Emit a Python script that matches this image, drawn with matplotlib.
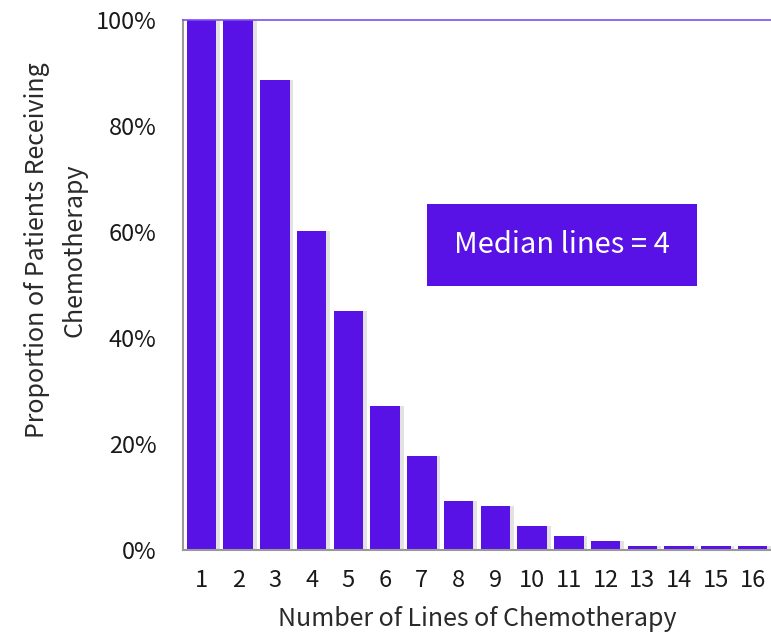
import matplotlib
matplotlib.use("Agg")
import matplotlib.pyplot as plt
from matplotlib.patches import Rectangle
from matplotlib.ticker import PercentFormatter

plt.rcParams['font.family'] = ['Noto Sans CJK KR', 'DejaVu Sans']

lines = list(range(1, 17))
proportion = [100, 100, 88.7, 60.2, 45.1, 27.2, 17.7, 9.2, 8.3, 4.5, 2.6, 1.7, 0.8, 0.8, 0.8, 0.8]
y_ticks = [0, 20, 40, 60, 80, 100]
annotation = "Median lines = 4"

bar_color = "#5912E6"
text_color = "#1a1a1a"

fig = plt.figure(figsize=(7.71, 6.34), dpi=100)
ax = fig.add_axes([0.2374, 0.1325, 0.7626, 0.836])

# soft shadow behind each bar
ax.bar([x + 0.1 for x in lines], proportion, width=0.8, color="#e2e2e2", zorder=1)
ax.bar(lines, proportion, width=0.8, color=bar_color, zorder=2)

ax.set_xlim(0.5, 16.5)
ax.set_ylim(0, 100)
ax.set_xticks(lines)
ax.set_xticklabels([str(x) for x in lines])
ax.set_yticks(y_ticks)
ax.yaxis.set_major_formatter(PercentFormatter(decimals=0))
ax.tick_params(axis='both', length=0, labelsize=17, colors=text_color)
ax.tick_params(axis='y', pad=19)
ax.tick_params(axis='x', pad=14)

ax.spines["right"].set_visible(False)
ax.spines["top"].set_color("#7a4ff0")
ax.spines["top"].set_linewidth(1.2)
ax.spines["left"].set_color("#999999")
ax.spines["left"].set_linewidth(1.5)
ax.spines["bottom"].set_color("#999999")
ax.spines["bottom"].set_linewidth(1.5)

ax.set_xlabel("Number of Lines of Chemotherapy", fontsize=18, color="#2a2a2a", labelpad=10)
ax.set_ylabel("Proportion of Patients Receiving\nChemotherapy", fontsize=18, color="#2a2a2a",
              linespacing=1.55)
ax.yaxis.set_label_coords(-0.163, 0.566)

ax.add_patch(Rectangle((7.15, 49.8), 7.34, 15.5, facecolor=bar_color, edgecolor="none", zorder=5))
ax.text(10.82, 57.5, annotation, fontsize=21, color="white", ha="center", va="center", zorder=6)

fig.savefig("out.png", dpi=100)
